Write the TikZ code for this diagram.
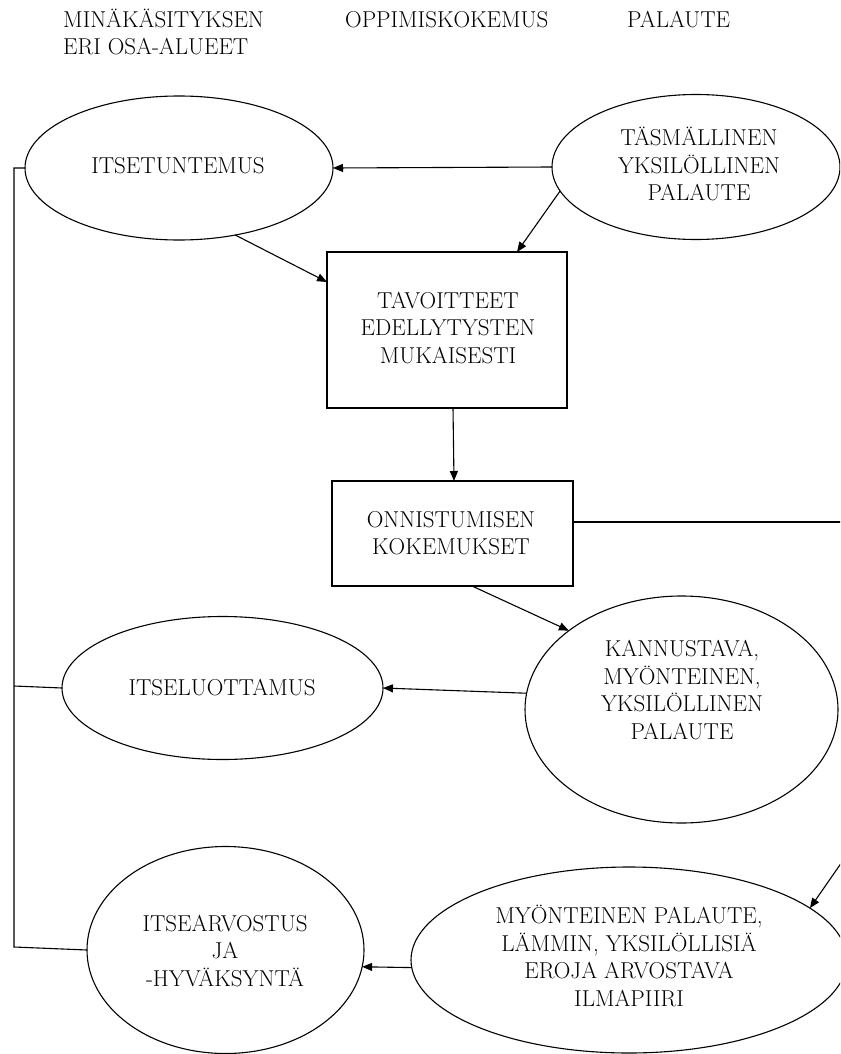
\documentclass[tikz,border=0pt]{standalone}
\usetikzlibrary{shapes.geometric,arrows.meta}
\begin{document}
\begin{tikzpicture}[x=1pt,y=-1pt,
  lw/.style={line width=1.1pt},
  ell/.style={ellipse,draw,lw,inner sep=0pt,outer sep=0pt},
  boxn/.style={rectangle,draw,lw,inner sep=0pt,outer sep=0pt},
  txt/.style={align=center,inner sep=0pt,font=\fontsize{23}{27.5}\selectfont},
  hdr/.style={align=left,inner sep=0pt,anchor=base west,font=\fontsize{23}{27}\selectfont},
  arr/.style={lw,-{Triangle[length=10pt,width=8pt]}},
  conn/.style={lw}]
\useasboundingbox (0,0) rectangle (840,1054);
\fill[white] (0,0) rectangle (840,1054);
\clip (0,0) rectangle (840,1054);

% headers (base anchor = baseline of last line)
\node[hdr] (h1) at (63,55) {MINÄKÄSITYKSEN\\ERI OSA-ALUEET};
\node[hdr] (h2) at (345,28) {OPPIMISKOKEMUS};
\node[hdr] (h3) at (627,28) {PALAUTE};

% shapes
\node[ell,minimum width=308pt,minimum height=144pt] (itse) at (179,168) {};
\node[ell,minimum width=288pt,minimum height=145pt] (tasm) at (696,167) {};
\node[boxn,minimum width=240pt,minimum height=156pt] (box1) at (447,330) {};
\node[boxn,minimum width=241pt,minimum height=105pt] (box2) at (452.5,533.5) {};
\node[ell,minimum width=313pt,minimum height=227pt] (kann) at (681.5,709.5) {};
\node[ell,minimum width=321pt,minimum height=143pt] (iluot) at (222.5,688) {};
\node[ell,minimum width=277pt,minimum height=207pt] (iarv) at (225.5,950) {};
\node[ell,minimum width=436pt,minimum height=186pt] (myont) at (629,960) {};

% texts
\node[txt] (t-itse) at (178,166) {ITSETUNTEMUS};
\node[txt] (t-tasm) at (699,164) {TÄSMÄLLINEN\\YKSILÖLLINEN\\PALAUTE};
\node[txt] (t-box1) at (448,328) {TAVOITTEET\\EDELLYTYSTEN\\MUKAISESTI};
\node[txt] (t-box2) at (451,533) {ONNISTUMISEN\\KOKEMUKSET};
\node[txt] (t-kann) at (682,690) {KANNUSTAVA,\\MYÖNTEINEN,\\YKSILÖLLINEN\\PALAUTE};
\node[txt] (t-iluot) at (222,688) {ITSELUOTTAMUS};
\node[txt] (t-iarv) at (225,951) {ITSEARVOSTUS\\JA\\-HYVÄKSYNTÄ};
\node[txt] (t-myont) at (629,956) {MYÖNTEINEN PALAUTE,\\LÄMMIN, YKSILÖLLISIÄ\\EROJA ARVOSTAVA\\ILMAPIIRI};

% free ends
\coordinate (lt) at (14,168);
\coordinate (lm) at (14,686);
\coordinate (lb) at (14,947);
\coordinate (offr1) at (850,522);
\coordinate (offr2) at (860,836);

% connectors
\draw[arr] (tasm.west) -- (itse.east);
\draw[arr] (itse.-50.5) -- ([yshift=48pt]box1.west);
\draw[arr] (tasm.190.7) -- ([xshift=70pt]box1.north);
\draw[arr] ([xshift=6pt]box1.south) -- ([xshift=1.5pt]box2.north);
\draw[arr] ([xshift=19.5pt]box2.south) -- (kann.145.9);
\draw[conn] ([yshift=11.5pt]box2.east) -- (offr1);
\draw[arr] (kann.174.7) -- (iluot.east);
\draw[arr] (myont.182.4) -- (iarv.-7.9);
\draw[arr] (offr2) -- (myont.16.7);
\draw[conn] (itse.west) -- (lt) -- (lb) -- (iarv.west);
\draw[conn] (iluot.west) -- (lm);
\end{tikzpicture}
\end{document}
